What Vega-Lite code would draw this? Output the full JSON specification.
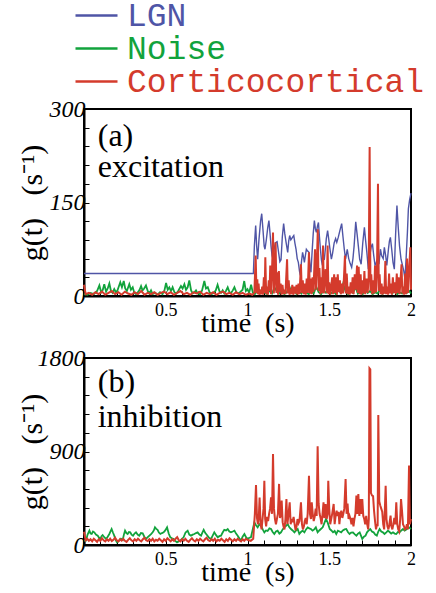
{
  "$schema": "https://vega.github.io/schema/vega-lite/v6.json",
  "background": "white",
  "padding": {"left": 16, "top": 0, "right": 0, "bottom": 0},
  "autosize": {"type": "pad"},
  "spacing": 62,
  "bounds": "flush",
  "datasets": {
    "aL": [{"t":0,"v":36},{"t":1.036,"v":36},{"t":1.042,"v":80},{"t":1.05,"v":113},{"t":1.056,"v":80},{"t":1.062,"v":59},{"t":1.07,"v":90},{"t":1.08,"v":120},{"t":1.087,"v":132},{"t":1.095,"v":105},{"t":1.102,"v":80},{"t":1.107,"v":75},{"t":1.115,"v":90},{"t":1.124,"v":110},{"t":1.131,"v":121},{"t":1.138,"v":100},{"t":1.144,"v":80},{"t":1.15,"v":65},{"t":1.156,"v":59},{"t":1.163,"v":75},{"t":1.17,"v":85},{"t":1.181,"v":87},{"t":1.19,"v":70},{"t":1.198,"v":55},{"t":1.205,"v":58},{"t":1.213,"v":95},{"t":1.221,"v":116},{"t":1.228,"v":100},{"t":1.236,"v":86},{"t":1.246,"v":70},{"t":1.252,"v":88},{"t":1.258,"v":97},{"t":1.265,"v":90},{"t":1.27,"v":92},{"t":1.277,"v":95},{"t":1.283,"v":97},{"t":1.29,"v":85},{"t":1.297,"v":75},{"t":1.304,"v":60},{"t":1.311,"v":54},{"t":1.318,"v":40},{"t":1.323,"v":33},{"t":1.33,"v":55},{"t":1.337,"v":70},{"t":1.343,"v":62},{"t":1.348,"v":54},{"t":1.354,"v":65},{"t":1.36,"v":75},{"t":1.368,"v":72},{"t":1.376,"v":70},{"t":1.382,"v":50},{"t":1.388,"v":38},{"t":1.395,"v":70},{"t":1.402,"v":100},{"t":1.409,"v":121},{"t":1.415,"v":108},{"t":1.421,"v":102},{"t":1.428,"v":112},{"t":1.434,"v":118},{"t":1.44,"v":95},{"t":1.446,"v":75},{"t":1.452,"v":58},{"t":1.458,"v":49},{"t":1.464,"v":58},{"t":1.47,"v":59},{"t":1.476,"v":75},{"t":1.482,"v":92},{"t":1.49,"v":105},{"t":1.495,"v":95},{"t":1.502,"v":80},{"t":1.507,"v":70},{"t":1.513,"v":59},{"t":1.52,"v":68},{"t":1.53,"v":85},{"t":1.539,"v":92},{"t":1.546,"v":86},{"t":1.555,"v":94},{"t":1.565,"v":105},{"t":1.576,"v":116},{"t":1.584,"v":95},{"t":1.592,"v":75},{"t":1.6,"v":59},{"t":1.61,"v":75},{"t":1.619,"v":60},{"t":1.628,"v":52},{"t":1.637,"v":46},{"t":1.645,"v":60},{"t":1.652,"v":80},{"t":1.662,"v":119},{"t":1.67,"v":100},{"t":1.678,"v":80},{"t":1.686,"v":59},{"t":1.695,"v":51},{"t":1.705,"v":85},{"t":1.715,"v":110},{"t":1.722,"v":90},{"t":1.73,"v":70},{"t":1.739,"v":43},{"t":1.748,"v":65},{"t":1.756,"v":78},{"t":1.764,"v":84},{"t":1.772,"v":65},{"t":1.78,"v":49},{"t":1.788,"v":54},{"t":1.796,"v":60},{"t":1.804,"v":51},{"t":1.813,"v":75},{"t":1.82,"v":65},{"t":1.83,"v":60},{"t":1.837,"v":78},{"t":1.845,"v":65},{"t":1.852,"v":49},{"t":1.862,"v":75},{"t":1.868,"v":88},{"t":1.874,"v":94},{"t":1.882,"v":75},{"t":1.89,"v":54},{"t":1.898,"v":43},{"t":1.906,"v":100},{"t":1.914,"v":145},{"t":1.922,"v":110},{"t":1.93,"v":80},{"t":1.939,"v":59},{"t":1.948,"v":49},{"t":1.956,"v":40},{"t":1.963,"v":27},{"t":1.97,"v":60},{"t":1.978,"v":102},{"t":1.984,"v":140},{"t":1.992,"v":155},{"t":2.0,"v":165}],
    "aN": [{"t":0,"v":3},{"t":0.02,"v":2},{"t":0.04,"v":5},{"t":0.06,"v":3},{"t":0.08,"v":8},{"t":0.094,"v":17},{"t":0.105,"v":6},{"t":0.115,"v":10},{"t":0.124,"v":19},{"t":0.135,"v":7},{"t":0.145,"v":12},{"t":0.155,"v":20},{"t":0.165,"v":8},{"t":0.175,"v":5},{"t":0.185,"v":11},{"t":0.195,"v":6},{"t":0.205,"v":9},{"t":0.214,"v":16},{"t":0.222,"v":22},{"t":0.232,"v":14},{"t":0.243,"v":24},{"t":0.252,"v":12},{"t":0.262,"v":8},{"t":0.277,"v":19},{"t":0.287,"v":10},{"t":0.298,"v":14},{"t":0.308,"v":5},{"t":0.318,"v":3},{"t":0.33,"v":6},{"t":0.34,"v":10},{"t":0.349,"v":16},{"t":0.358,"v":9},{"t":0.368,"v":12},{"t":0.379,"v":17},{"t":0.39,"v":8},{"t":0.4,"v":4},{"t":0.41,"v":9},{"t":0.42,"v":3},{"t":0.435,"v":5},{"t":0.45,"v":2},{"t":0.465,"v":6},{"t":0.48,"v":3},{"t":0.492,"v":9},{"t":0.502,"v":21},{"t":0.512,"v":10},{"t":0.522,"v":14},{"t":0.532,"v":8},{"t":0.542,"v":14},{"t":0.553,"v":6},{"t":0.565,"v":4},{"t":0.578,"v":9},{"t":0.593,"v":16},{"t":0.603,"v":12},{"t":0.614,"v":19},{"t":0.624,"v":10},{"t":0.634,"v":14},{"t":0.644,"v":25},{"t":0.655,"v":9},{"t":0.665,"v":4},{"t":0.675,"v":6},{"t":0.685,"v":9},{"t":0.695,"v":4},{"t":0.71,"v":3},{"t":0.722,"v":9},{"t":0.736,"v":24},{"t":0.746,"v":12},{"t":0.757,"v":14},{"t":0.768,"v":6},{"t":0.78,"v":3},{"t":0.795,"v":5},{"t":0.806,"v":9},{"t":0.817,"v":18},{"t":0.828,"v":8},{"t":0.838,"v":5},{"t":0.848,"v":9},{"t":0.858,"v":4},{"t":0.868,"v":8},{"t":0.879,"v":14},{"t":0.89,"v":6},{"t":0.9,"v":5},{"t":0.91,"v":9},{"t":0.92,"v":14},{"t":0.932,"v":6},{"t":0.945,"v":4},{"t":0.958,"v":7},{"t":0.97,"v":10},{"t":0.98,"v":24},{"t":0.99,"v":8},{"t":1.0,"v":11},{"t":1.01,"v":5},{"t":1.022,"v":18},{"t":1.032,"v":6},{"t":1.045,"v":3},{"t":1.06,"v":8},{"t":1.075,"v":4},{"t":1.09,"v":12},{"t":1.105,"v":5},{"t":1.12,"v":3},{"t":1.135,"v":9},{"t":1.15,"v":4},{"t":1.165,"v":14},{"t":1.18,"v":7},{"t":1.195,"v":4},{"t":1.21,"v":10},{"t":1.225,"v":3},{"t":1.24,"v":6},{"t":1.255,"v":16},{"t":1.27,"v":5},{"t":1.285,"v":9},{"t":1.3,"v":3},{"t":1.315,"v":7},{"t":1.33,"v":4},{"t":1.345,"v":12},{"t":1.36,"v":5},{"t":1.375,"v":3},{"t":1.39,"v":8},{"t":1.405,"v":4},{"t":1.42,"v":15},{"t":1.435,"v":6},{"t":1.45,"v":3},{"t":1.465,"v":9},{"t":1.48,"v":5},{"t":1.495,"v":12},{"t":1.51,"v":4},{"t":1.525,"v":8},{"t":1.54,"v":3},{"t":1.555,"v":10},{"t":1.57,"v":5},{"t":1.585,"v":20},{"t":1.6,"v":7},{"t":1.615,"v":3},{"t":1.63,"v":9},{"t":1.645,"v":5},{"t":1.66,"v":14},{"t":1.675,"v":4},{"t":1.69,"v":8},{"t":1.705,"v":3},{"t":1.72,"v":12},{"t":1.735,"v":5},{"t":1.75,"v":8},{"t":1.765,"v":3},{"t":1.78,"v":6},{"t":1.795,"v":4},{"t":1.81,"v":10},{"t":1.825,"v":3},{"t":1.84,"v":7},{"t":1.855,"v":5},{"t":1.87,"v":12},{"t":1.885,"v":4},{"t":1.9,"v":8},{"t":1.915,"v":3},{"t":1.93,"v":6},{"t":1.945,"v":4},{"t":1.96,"v":14},{"t":1.975,"v":5},{"t":1.99,"v":8},{"t":2.0,"v":4}],
    "aC": [{"t":0,"v":18},{"t":0.01,"v":3},{"t":0.03,"v":5},{"t":0.05,"v":2},{"t":0.07,"v":6},{"t":0.09,"v":3},{"t":0.11,"v":7},{"t":0.13,"v":2},{"t":0.15,"v":5},{"t":0.17,"v":8},{"t":0.19,"v":3},{"t":0.21,"v":6},{"t":0.23,"v":2},{"t":0.25,"v":7},{"t":0.27,"v":4},{"t":0.29,"v":2},{"t":0.31,"v":6},{"t":0.33,"v":3},{"t":0.35,"v":8},{"t":0.37,"v":2},{"t":0.39,"v":5},{"t":0.41,"v":3},{"t":0.43,"v":6},{"t":0.45,"v":2},{"t":0.47,"v":5},{"t":0.49,"v":7},{"t":0.51,"v":3},{"t":0.53,"v":6},{"t":0.55,"v":2},{"t":0.57,"v":5},{"t":0.59,"v":8},{"t":0.61,"v":3},{"t":0.63,"v":5},{"t":0.65,"v":2},{"t":0.67,"v":6},{"t":0.69,"v":4},{"t":0.71,"v":7},{"t":0.73,"v":2},{"t":0.75,"v":5},{"t":0.77,"v":3},{"t":0.79,"v":6},{"t":0.81,"v":2},{"t":0.83,"v":5},{"t":0.85,"v":7},{"t":0.87,"v":3},{"t":0.89,"v":5},{"t":0.91,"v":2},{"t":0.93,"v":6},{"t":0.95,"v":3},{"t":0.97,"v":5},{"t":0.99,"v":2},{"t":1.01,"v":4},{"t":1.03,"v":2},{"t":1.042,"v":5},{"t":1.05,"v":65},{"t":1.055,"v":5},{"t":1.06,"v":27},{"t":1.064,"v":3},{"t":1.068,"v":20},{"t":1.072,"v":2},{"t":1.078,"v":10},{"t":1.085,"v":3},{"t":1.09,"v":15},{"t":1.095,"v":2},{"t":1.1,"v":30},{"t":1.105,"v":5},{"t":1.109,"v":62},{"t":1.114,"v":3},{"t":1.12,"v":15},{"t":1.125,"v":2},{"t":1.13,"v":25},{"t":1.135,"v":8},{"t":1.139,"v":49},{"t":1.144,"v":3},{"t":1.15,"v":40},{"t":1.156,"v":102},{"t":1.161,"v":4},{"t":1.166,"v":30},{"t":1.172,"v":86},{"t":1.177,"v":5},{"t":1.182,"v":38},{"t":1.187,"v":2},{"t":1.192,"v":40},{"t":1.197,"v":6},{"t":1.203,"v":20},{"t":1.208,"v":2},{"t":1.214,"v":18},{"t":1.22,"v":3},{"t":1.226,"v":10},{"t":1.232,"v":3},{"t":1.242,"v":59},{"t":1.247,"v":4},{"t":1.252,"v":25},{"t":1.257,"v":2},{"t":1.262,"v":12},{"t":1.268,"v":3},{"t":1.274,"v":18},{"t":1.28,"v":2},{"t":1.287,"v":15},{"t":1.293,"v":4},{"t":1.3,"v":18},{"t":1.306,"v":2},{"t":1.312,"v":20},{"t":1.318,"v":3},{"t":1.327,"v":51},{"t":1.332,"v":5},{"t":1.338,"v":25},{"t":1.344,"v":3},{"t":1.35,"v":20},{"t":1.356,"v":2},{"t":1.362,"v":28},{"t":1.368,"v":5},{"t":1.376,"v":70},{"t":1.381,"v":4},{"t":1.386,"v":28},{"t":1.392,"v":3},{"t":1.398,"v":30},{"t":1.403,"v":6},{"t":1.413,"v":75},{"t":1.418,"v":10},{"t":1.424,"v":50},{"t":1.43,"v":107},{"t":1.435,"v":8},{"t":1.44,"v":45},{"t":1.446,"v":3},{"t":1.452,"v":30},{"t":1.457,"v":5},{"t":1.462,"v":81},{"t":1.467,"v":4},{"t":1.472,"v":25},{"t":1.478,"v":43},{"t":1.484,"v":5},{"t":1.49,"v":81},{"t":1.495,"v":3},{"t":1.5,"v":22},{"t":1.506,"v":2},{"t":1.512,"v":15},{"t":1.518,"v":30},{"t":1.523,"v":3},{"t":1.53,"v":35},{"t":1.536,"v":5},{"t":1.541,"v":30},{"t":1.547,"v":2},{"t":1.552,"v":35},{"t":1.558,"v":6},{"t":1.565,"v":25},{"t":1.571,"v":3},{"t":1.578,"v":20},{"t":1.584,"v":4},{"t":1.59,"v":30},{"t":1.596,"v":65},{"t":1.601,"v":4},{"t":1.607,"v":36},{"t":1.613,"v":3},{"t":1.619,"v":15},{"t":1.625,"v":2},{"t":1.631,"v":22},{"t":1.637,"v":4},{"t":1.643,"v":30},{"t":1.649,"v":3},{"t":1.656,"v":35},{"t":1.662,"v":10},{"t":1.67,"v":49},{"t":1.675,"v":5},{"t":1.68,"v":47},{"t":1.686,"v":3},{"t":1.692,"v":35},{"t":1.697,"v":2},{"t":1.703,"v":25},{"t":1.709,"v":4},{"t":1.715,"v":40},{"t":1.72,"v":3},{"t":1.728,"v":28},{"t":1.735,"v":5},{"t":1.741,"v":30},{"t":1.747,"v":239},{"t":1.752,"v":8},{"t":1.757,"v":35},{"t":1.763,"v":3},{"t":1.769,"v":25},{"t":1.775,"v":4},{"t":1.78,"v":49},{"t":1.786,"v":6},{"t":1.792,"v":40},{"t":1.798,"v":180},{"t":1.803,"v":8},{"t":1.808,"v":35},{"t":1.814,"v":3},{"t":1.82,"v":20},{"t":1.826,"v":2},{"t":1.832,"v":15},{"t":1.837,"v":4},{"t":1.843,"v":56},{"t":1.848,"v":3},{"t":1.854,"v":15},{"t":1.86,"v":2},{"t":1.866,"v":36},{"t":1.871,"v":4},{"t":1.877,"v":20},{"t":1.883,"v":2},{"t":1.889,"v":30},{"t":1.895,"v":5},{"t":1.901,"v":22},{"t":1.907,"v":3},{"t":1.913,"v":36},{"t":1.918,"v":5},{"t":1.924,"v":30},{"t":1.93,"v":3},{"t":1.936,"v":25},{"t":1.942,"v":51},{"t":1.947,"v":4},{"t":1.953,"v":15},{"t":1.958,"v":2},{"t":1.964,"v":36},{"t":1.97,"v":3},{"t":1.976,"v":60},{"t":1.982,"v":5},{"t":1.988,"v":40},{"t":1.996,"v":78},{"t":2.0,"v":10}],
    "bN": [{"t":0,"v":42},{"t":0.012,"v":42},{"t":0.022,"v":100},{"t":0.033,"v":138},{"t":0.04,"v":110},{"t":0.047,"v":106},{"t":0.055,"v":130},{"t":0.063,"v":122},{"t":0.073,"v":100},{"t":0.084,"v":90},{"t":0.092,"v":70},{"t":0.1,"v":58},{"t":0.107,"v":85},{"t":0.114,"v":96},{"t":0.124,"v":75},{"t":0.135,"v":58},{"t":0.145,"v":80},{"t":0.155,"v":106},{"t":0.162,"v":130},{"t":0.169,"v":154},{"t":0.177,"v":120},{"t":0.185,"v":90},{"t":0.193,"v":50},{"t":0.202,"v":26},{"t":0.209,"v":35},{"t":0.216,"v":42},{"t":0.226,"v":60},{"t":0.237,"v":48},{"t":0.244,"v":100},{"t":0.251,"v":138},{"t":0.259,"v":115},{"t":0.267,"v":106},{"t":0.275,"v":125},{"t":0.283,"v":122},{"t":0.291,"v":100},{"t":0.3,"v":90},{"t":0.309,"v":110},{"t":0.318,"v":122},{"t":0.328,"v":100},{"t":0.338,"v":90},{"t":0.348,"v":115},{"t":0.359,"v":112},{"t":0.369,"v":80},{"t":0.379,"v":58},{"t":0.39,"v":75},{"t":0.4,"v":90},{"t":0.41,"v":105},{"t":0.42,"v":122},{"t":0.427,"v":140},{"t":0.434,"v":170},{"t":0.442,"v":155},{"t":0.45,"v":146},{"t":0.458,"v":120},{"t":0.467,"v":106},{"t":0.477,"v":115},{"t":0.487,"v":122},{"t":0.497,"v":140},{"t":0.508,"v":170},{"t":0.518,"v":110},{"t":0.528,"v":74},{"t":0.538,"v":65},{"t":0.548,"v":58},{"t":0.558,"v":40},{"t":0.569,"v":26},{"t":0.579,"v":35},{"t":0.589,"v":42},{"t":0.599,"v":60},{"t":0.609,"v":74},{"t":0.621,"v":120},{"t":0.634,"v":138},{"t":0.644,"v":100},{"t":0.654,"v":90},{"t":0.665,"v":100},{"t":0.675,"v":106},{"t":0.685,"v":115},{"t":0.695,"v":122},{"t":0.706,"v":100},{"t":0.716,"v":90},{"t":0.724,"v":120},{"t":0.732,"v":146},{"t":0.742,"v":115},{"t":0.752,"v":96},{"t":0.765,"v":70},{"t":0.777,"v":58},{"t":0.787,"v":90},{"t":0.797,"v":122},{"t":0.808,"v":95},{"t":0.818,"v":74},{"t":0.828,"v":85},{"t":0.838,"v":90},{"t":0.848,"v":120},{"t":0.858,"v":146},{"t":0.869,"v":140},{"t":0.879,"v":154},{"t":0.889,"v":130},{"t":0.899,"v":122},{"t":0.91,"v":130},{"t":0.92,"v":138},{"t":0.93,"v":110},{"t":0.94,"v":90},{"t":0.95,"v":65},{"t":0.96,"v":42},{"t":0.97,"v":80},{"t":0.981,"v":106},{"t":0.991,"v":75},{"t":1.001,"v":58},{"t":1.011,"v":70},{"t":1.021,"v":74},{"t":1.032,"v":150},{"t":1.042,"v":218},{"t":1.052,"v":190},{"t":1.062,"v":170},{"t":1.072,"v":200},{"t":1.083,"v":186},{"t":1.093,"v":150},{"t":1.103,"v":122},{"t":1.113,"v":140},{"t":1.123,"v":135},{"t":1.134,"v":160},{"t":1.144,"v":154},{"t":1.154,"v":125},{"t":1.164,"v":106},{"t":1.174,"v":130},{"t":1.184,"v":138},{"t":1.195,"v":110},{"t":1.205,"v":122},{"t":1.215,"v":150},{"t":1.225,"v":170},{"t":1.236,"v":185},{"t":1.246,"v":202},{"t":1.256,"v":170},{"t":1.266,"v":154},{"t":1.276,"v":140},{"t":1.287,"v":122},{"t":1.297,"v":140},{"t":1.307,"v":154},{"t":1.317,"v":106},{"t":1.327,"v":125},{"t":1.337,"v":138},{"t":1.348,"v":122},{"t":1.358,"v":150},{"t":1.368,"v":170},{"t":1.378,"v":160},{"t":1.388,"v":154},{"t":1.398,"v":138},{"t":1.408,"v":150},{"t":1.418,"v":170},{"t":1.429,"v":122},{"t":1.439,"v":140},{"t":1.449,"v":154},{"t":1.46,"v":170},{"t":1.47,"v":210},{"t":1.48,"v":250},{"t":1.49,"v":218},{"t":1.503,"v":154},{"t":1.513,"v":140},{"t":1.523,"v":122},{"t":1.533,"v":135},{"t":1.543,"v":106},{"t":1.553,"v":138},{"t":1.563,"v":130},{"t":1.573,"v":122},{"t":1.583,"v":140},{"t":1.594,"v":150},{"t":1.604,"v":154},{"t":1.614,"v":125},{"t":1.624,"v":106},{"t":1.634,"v":120},{"t":1.645,"v":122},{"t":1.655,"v":105},{"t":1.666,"v":90},{"t":1.676,"v":110},{"t":1.686,"v":122},{"t":1.694,"v":90},{"t":1.702,"v":58},{"t":1.712,"v":80},{"t":1.722,"v":90},{"t":1.731,"v":122},{"t":1.741,"v":140},{"t":1.751,"v":154},{"t":1.761,"v":130},{"t":1.771,"v":122},{"t":1.781,"v":100},{"t":1.791,"v":90},{"t":1.8,"v":130},{"t":1.808,"v":154},{"t":1.818,"v":130},{"t":1.828,"v":122},{"t":1.838,"v":106},{"t":1.849,"v":122},{"t":1.859,"v":138},{"t":1.869,"v":125},{"t":1.879,"v":110},{"t":1.89,"v":122},{"t":1.9,"v":110},{"t":1.91,"v":106},{"t":1.92,"v":125},{"t":1.93,"v":122},{"t":1.941,"v":140},{"t":1.951,"v":154},{"t":1.961,"v":138},{"t":1.971,"v":150},{"t":1.98,"v":160},{"t":1.988,"v":170},{"t":2.0,"v":154}],
    "bC": [{"t":0,"v":128},{"t":0.01,"v":45},{"t":0.02,"v":60},{"t":0.03,"v":40},{"t":0.04,"v":55},{"t":0.05,"v":35},{"t":0.06,"v":60},{"t":0.07,"v":45},{"t":0.08,"v":30},{"t":0.09,"v":55},{"t":0.1,"v":40},{"t":0.11,"v":65},{"t":0.12,"v":45},{"t":0.13,"v":35},{"t":0.14,"v":55},{"t":0.15,"v":40},{"t":0.16,"v":60},{"t":0.17,"v":38},{"t":0.18,"v":50},{"t":0.19,"v":70},{"t":0.2,"v":45},{"t":0.21,"v":35},{"t":0.22,"v":55},{"t":0.23,"v":42},{"t":0.24,"v":60},{"t":0.25,"v":40},{"t":0.26,"v":30},{"t":0.27,"v":50},{"t":0.28,"v":65},{"t":0.29,"v":45},{"t":0.3,"v":35},{"t":0.31,"v":55},{"t":0.32,"v":40},{"t":0.33,"v":60},{"t":0.34,"v":45},{"t":0.35,"v":35},{"t":0.36,"v":55},{"t":0.37,"v":70},{"t":0.38,"v":45},{"t":0.39,"v":38},{"t":0.4,"v":55},{"t":0.41,"v":40},{"t":0.42,"v":60},{"t":0.43,"v":35},{"t":0.44,"v":50},{"t":0.45,"v":42},{"t":0.46,"v":60},{"t":0.47,"v":45},{"t":0.48,"v":30},{"t":0.49,"v":55},{"t":0.5,"v":40},{"t":0.51,"v":65},{"t":0.52,"v":50},{"t":0.53,"v":35},{"t":0.54,"v":55},{"t":0.55,"v":40},{"t":0.56,"v":60},{"t":0.57,"v":75},{"t":0.58,"v":45},{"t":0.59,"v":35},{"t":0.6,"v":55},{"t":0.61,"v":42},{"t":0.62,"v":60},{"t":0.63,"v":40},{"t":0.64,"v":30},{"t":0.65,"v":50},{"t":0.66,"v":65},{"t":0.67,"v":45},{"t":0.68,"v":35},{"t":0.69,"v":55},{"t":0.7,"v":40},{"t":0.71,"v":60},{"t":0.72,"v":45},{"t":0.73,"v":35},{"t":0.74,"v":55},{"t":0.75,"v":70},{"t":0.76,"v":45},{"t":0.77,"v":38},{"t":0.78,"v":55},{"t":0.79,"v":40},{"t":0.8,"v":60},{"t":0.81,"v":35},{"t":0.82,"v":50},{"t":0.83,"v":42},{"t":0.84,"v":60},{"t":0.85,"v":45},{"t":0.86,"v":30},{"t":0.87,"v":55},{"t":0.88,"v":40},{"t":0.89,"v":65},{"t":0.9,"v":50},{"t":0.91,"v":35},{"t":0.92,"v":55},{"t":0.93,"v":40},{"t":0.94,"v":60},{"t":0.95,"v":45},{"t":0.96,"v":35},{"t":0.97,"v":55},{"t":0.98,"v":40},{"t":0.99,"v":60},{"t":1.0,"v":50},{"t":1.02,"v":40},{"t":1.035,"v":60},{"t":1.045,"v":300},{"t":1.052,"v":578},{"t":1.058,"v":260},{"t":1.064,"v":200},{"t":1.07,"v":300},{"t":1.074,"v":458},{"t":1.08,"v":200},{"t":1.086,"v":150},{"t":1.092,"v":250},{"t":1.098,"v":350},{"t":1.103,"v":619},{"t":1.108,"v":250},{"t":1.114,"v":180},{"t":1.12,"v":270},{"t":1.126,"v":230},{"t":1.132,"v":300},{"t":1.138,"v":350},{"t":1.144,"v":458},{"t":1.15,"v":300},{"t":1.156,"v":876},{"t":1.162,"v":350},{"t":1.168,"v":250},{"t":1.174,"v":200},{"t":1.18,"v":250},{"t":1.186,"v":300},{"t":1.193,"v":588},{"t":1.199,"v":260},{"t":1.205,"v":300},{"t":1.209,"v":427},{"t":1.215,"v":220},{"t":1.22,"v":180},{"t":1.226,"v":150},{"t":1.232,"v":250},{"t":1.238,"v":443},{"t":1.244,"v":200},{"t":1.25,"v":280},{"t":1.258,"v":410},{"t":1.264,"v":200},{"t":1.27,"v":250},{"t":1.276,"v":220},{"t":1.282,"v":270},{"t":1.288,"v":200},{"t":1.294,"v":140},{"t":1.3,"v":180},{"t":1.306,"v":250},{"t":1.312,"v":210},{"t":1.318,"v":230},{"t":1.327,"v":410},{"t":1.333,"v":200},{"t":1.339,"v":150},{"t":1.345,"v":180},{"t":1.35,"v":230},{"t":1.356,"v":260},{"t":1.362,"v":200},{"t":1.368,"v":300},{"t":1.376,"v":667},{"t":1.382,"v":300},{"t":1.388,"v":250},{"t":1.393,"v":410},{"t":1.399,"v":300},{"t":1.405,"v":230},{"t":1.411,"v":270},{"t":1.417,"v":350},{"t":1.423,"v":280},{"t":1.429,"v":950},{"t":1.435,"v":400},{"t":1.441,"v":300},{"t":1.447,"v":260},{"t":1.453,"v":200},{"t":1.459,"v":300},{"t":1.465,"v":410},{"t":1.47,"v":260},{"t":1.475,"v":300},{"t":1.478,"v":395},{"t":1.484,"v":250},{"t":1.49,"v":300},{"t":1.494,"v":619},{"t":1.5,"v":350},{"t":1.506,"v":200},{"t":1.512,"v":250},{"t":1.518,"v":300},{"t":1.527,"v":395},{"t":1.533,"v":200},{"t":1.539,"v":280},{"t":1.545,"v":330},{"t":1.551,"v":280},{"t":1.557,"v":320},{"t":1.562,"v":200},{"t":1.568,"v":300},{"t":1.574,"v":330},{"t":1.58,"v":260},{"t":1.586,"v":300},{"t":1.592,"v":350},{"t":1.6,"v":635},{"t":1.606,"v":300},{"t":1.612,"v":400},{"t":1.618,"v":250},{"t":1.624,"v":280},{"t":1.63,"v":250},{"t":1.636,"v":200},{"t":1.642,"v":260},{"t":1.648,"v":180},{"t":1.654,"v":250},{"t":1.66,"v":300},{"t":1.666,"v":475},{"t":1.672,"v":300},{"t":1.678,"v":490},{"t":1.684,"v":280},{"t":1.69,"v":443},{"t":1.696,"v":300},{"t":1.702,"v":443},{"t":1.708,"v":280},{"t":1.714,"v":250},{"t":1.72,"v":200},{"t":1.726,"v":280},{"t":1.732,"v":200},{"t":1.738,"v":150},{"t":1.742,"v":250},{"t":1.746,"v":1700},{"t":1.751,"v":1690},{"t":1.755,"v":500},{"t":1.762,"v":475},{"t":1.768,"v":470},{"t":1.774,"v":330},{"t":1.78,"v":230},{"t":1.786,"v":150},{"t":1.792,"v":200},{"t":1.796,"v":180},{"t":1.8,"v":1251},{"t":1.806,"v":420},{"t":1.812,"v":380},{"t":1.818,"v":350},{"t":1.824,"v":320},{"t":1.83,"v":200},{"t":1.836,"v":150},{"t":1.845,"v":571},{"t":1.85,"v":250},{"t":1.856,"v":180},{"t":1.862,"v":150},{"t":1.868,"v":200},{"t":1.875,"v":283},{"t":1.88,"v":180},{"t":1.886,"v":150},{"t":1.892,"v":200},{"t":1.898,"v":260},{"t":1.904,"v":200},{"t":1.91,"v":411},{"t":1.916,"v":200},{"t":1.922,"v":150},{"t":1.928,"v":130},{"t":1.934,"v":250},{"t":1.939,"v":443},{"t":1.945,"v":330},{"t":1.951,"v":200},{"t":1.957,"v":180},{"t":1.963,"v":150},{"t":1.969,"v":160},{"t":1.975,"v":200},{"t":1.981,"v":150},{"t":1.988,"v":764},{"t":1.993,"v":200},{"t":2.0,"v":250}],
    "labels": [{"panel":"a","line":"(a)"},{"panel":"a2","line":"excitation"},{"panel":"b","line":"(b)"},{"panel":"b2","line":"inhibition"}]
  },
  "vconcat": [
    {
      "width": 327,
      "height": 187,
      "layer": [
        {"data": {"name": "aL"}, "mark": {"type": "line", "strokeWidth": 1.4},
         "encoding": {
           "x": {"field": "t", "type": "quantitative", "scale": {"domain": [0, 2], "nice": false},
             "axis": {"title": "time\u00a0\u00a0(s)", "values": [0.1,0.2,0.3,0.4,0.5,0.6,0.7,0.8,0.9,1,1.1,1.2,1.3,1.4,1.5,1.6,1.7,1.8,1.9,2],
               "labelExpr": "datum.value == 0.5 || datum.value == 1 || datum.value == 1.5 || datum.value == 2 ? format(datum.value, '~g') : ''"}},
           "y": {"field": "v", "type": "quantitative", "scale": {"domain": [0, 300], "nice": false},
             "axis": {"title": "g(t)\u00a0\u00a0\u00a0(s⁻¹)", "values": [0,30,60,90,120,150,180,210,240,270,300],
               "labelExpr": "datum.value == 0 || datum.value == 150 || datum.value == 300 ? format(datum.value, 'd') : ''"}},
           "color": {"datum": "LGN", "type": "nominal",
             "scale": {"domain": ["LGN", "Noise", "Corticocortical"], "range": ["#4f55a6", "#12a33c", "#d43b2c"]},
             "legend": {"encode": {"labels": {"update": {"fill": {"scale": "color", "field": "value"}}}}}}}},
        {"data": {"name": "aN"}, "mark": {"type": "line", "strokeWidth": 1.8},
         "encoding": {
           "x": {"field": "t", "type": "quantitative", "scale": {"domain": [0, 2], "nice": false},
             "axis": {"title": "time\u00a0\u00a0(s)", "values": [0.1,0.2,0.3,0.4,0.5,0.6,0.7,0.8,0.9,1,1.1,1.2,1.3,1.4,1.5,1.6,1.7,1.8,1.9,2],
               "labelExpr": "datum.value == 0.5 || datum.value == 1 || datum.value == 1.5 || datum.value == 2 ? format(datum.value, '~g') : ''"}},
           "y": {"field": "v", "type": "quantitative", "scale": {"domain": [0, 300], "nice": false},
             "axis": {"title": "g(t)\u00a0\u00a0\u00a0(s⁻¹)", "values": [0,30,60,90,120,150,180,210,240,270,300],
               "labelExpr": "datum.value == 0 || datum.value == 150 || datum.value == 300 ? format(datum.value, 'd') : ''"}},
           "color": {"datum": "Noise", "type": "nominal"}}},
        {"data": {"name": "aC"}, "mark": {"type": "line", "strokeWidth": 2},
         "encoding": {
           "x": {"field": "t", "type": "quantitative", "scale": {"domain": [0, 2], "nice": false},
             "axis": {"title": "time\u00a0\u00a0(s)", "values": [0.1,0.2,0.3,0.4,0.5,0.6,0.7,0.8,0.9,1,1.1,1.2,1.3,1.4,1.5,1.6,1.7,1.8,1.9,2],
               "labelExpr": "datum.value == 0.5 || datum.value == 1 || datum.value == 1.5 || datum.value == 2 ? format(datum.value, '~g') : ''"}},
           "y": {"field": "v", "type": "quantitative", "scale": {"domain": [0, 300], "nice": false},
             "axis": {"title": "g(t)\u00a0\u00a0\u00a0(s⁻¹)", "values": [0,30,60,90,120,150,180,210,240,270,300],
               "labelExpr": "datum.value == 0 || datum.value == 150 || datum.value == 300 ? format(datum.value, 'd') : ''"}},
           "color": {"datum": "Corticocortical", "type": "nominal"}}},
        {"data": {"name": "labels"}, "transform": [{"filter": "datum.panel == 'a'"}],
         "mark": {"type": "text", "align": "left", "baseline": "alphabetic", "font": "Liberation Serif", "fontSize": 32, "fill": "black"},
         "encoding": {
           "x": {"datum": 0.084, "type": "quantitative", "scale": {"domain": [0, 2], "nice": false},
             "axis": {"title": "time\u00a0\u00a0(s)", "values": [0.1,0.2,0.3,0.4,0.5,0.6,0.7,0.8,0.9,1,1.1,1.2,1.3,1.4,1.5,1.6,1.7,1.8,1.9,2],
               "labelExpr": "datum.value == 0.5 || datum.value == 1 || datum.value == 1.5 || datum.value == 2 ? format(datum.value, '~g') : ''"}},
           "y": {"datum": 241, "type": "quantitative", "scale": {"domain": [0, 300], "nice": false},
             "axis": {"title": "g(t)\u00a0\u00a0\u00a0(s⁻¹)", "values": [0,30,60,90,120,150,180,210,240,270,300],
               "labelExpr": "datum.value == 0 || datum.value == 150 || datum.value == 300 ? format(datum.value, 'd') : ''"}},
           "text": {"field": "line"}}},
        {"data": {"name": "labels"}, "transform": [{"filter": "datum.panel == 'a2'"}],
         "mark": {"type": "text", "align": "left", "baseline": "alphabetic", "font": "Liberation Serif", "fontSize": 32, "fill": "black"},
         "encoding": {
           "x": {"datum": 0.084, "type": "quantitative", "scale": {"domain": [0, 2], "nice": false},
             "axis": {"title": "time\u00a0\u00a0(s)", "values": [0.1,0.2,0.3,0.4,0.5,0.6,0.7,0.8,0.9,1,1.1,1.2,1.3,1.4,1.5,1.6,1.7,1.8,1.9,2],
               "labelExpr": "datum.value == 0.5 || datum.value == 1 || datum.value == 1.5 || datum.value == 2 ? format(datum.value, '~g') : ''"}},
           "y": {"datum": 191, "type": "quantitative", "scale": {"domain": [0, 300], "nice": false},
             "axis": {"title": "g(t)\u00a0\u00a0\u00a0(s⁻¹)", "values": [0,30,60,90,120,150,180,210,240,270,300],
               "labelExpr": "datum.value == 0 || datum.value == 150 || datum.value == 300 ? format(datum.value, 'd') : ''"}},
           "text": {"field": "line"}}}
      ]
    },
    {
      "width": 327,
      "height": 187,
      "layer": [
        {"data": {"name": "bN"}, "mark": {"type": "line", "strokeWidth": 1.8},
         "encoding": {
           "x": {"field": "t", "type": "quantitative", "scale": {"domain": [0, 2], "nice": false},
             "axis": {"title": "time\u00a0\u00a0(s)", "values": [0.1,0.2,0.3,0.4,0.5,0.6,0.7,0.8,0.9,1,1.1,1.2,1.3,1.4,1.5,1.6,1.7,1.8,1.9,2],
               "labelExpr": "datum.value == 0.5 || datum.value == 1 || datum.value == 1.5 || datum.value == 2 ? format(datum.value, '~g') : ''"}},
           "y": {"field": "v", "type": "quantitative", "scale": {"domain": [0, 1800], "nice": false},
             "axis": {"title": "g(t)\u00a0\u00a0\u00a0(s⁻¹)", "values": [0,180,360,540,720,900,1080,1260,1440,1620,1800],
               "labelExpr": "datum.value == 0 || datum.value == 900 || datum.value == 1800 ? format(datum.value, 'd') : ''"}},
           "color": {"datum": "Noise", "type": "nominal"}}},
        {"data": {"name": "bC"}, "mark": {"type": "line", "strokeWidth": 2},
         "encoding": {
           "x": {"field": "t", "type": "quantitative", "scale": {"domain": [0, 2], "nice": false},
             "axis": {"title": "time\u00a0\u00a0(s)", "values": [0.1,0.2,0.3,0.4,0.5,0.6,0.7,0.8,0.9,1,1.1,1.2,1.3,1.4,1.5,1.6,1.7,1.8,1.9,2],
               "labelExpr": "datum.value == 0.5 || datum.value == 1 || datum.value == 1.5 || datum.value == 2 ? format(datum.value, '~g') : ''"}},
           "y": {"field": "v", "type": "quantitative", "scale": {"domain": [0, 1800], "nice": false},
             "axis": {"title": "g(t)\u00a0\u00a0\u00a0(s⁻¹)", "values": [0,180,360,540,720,900,1080,1260,1440,1620,1800],
               "labelExpr": "datum.value == 0 || datum.value == 900 || datum.value == 1800 ? format(datum.value, 'd') : ''"}},
           "color": {"datum": "Corticocortical", "type": "nominal"}}},
        {"data": {"name": "labels"}, "transform": [{"filter": "datum.panel == 'b'"}],
         "mark": {"type": "text", "align": "left", "baseline": "alphabetic", "font": "Liberation Serif", "fontSize": 32, "fill": "black"},
         "encoding": {
           "x": {"datum": 0.084, "type": "quantitative", "scale": {"domain": [0, 2], "nice": false},
             "axis": {"title": "time\u00a0\u00a0(s)", "values": [0.1,0.2,0.3,0.4,0.5,0.6,0.7,0.8,0.9,1,1.1,1.2,1.3,1.4,1.5,1.6,1.7,1.8,1.9,2],
               "labelExpr": "datum.value == 0.5 || datum.value == 1 || datum.value == 1.5 || datum.value == 2 ? format(datum.value, '~g') : ''"}},
           "y": {"datum": 1473, "type": "quantitative", "scale": {"domain": [0, 1800], "nice": false},
             "axis": {"title": "g(t)\u00a0\u00a0\u00a0(s⁻¹)", "values": [0,180,360,540,720,900,1080,1260,1440,1620,1800],
               "labelExpr": "datum.value == 0 || datum.value == 900 || datum.value == 1800 ? format(datum.value, 'd') : ''"}},
           "text": {"field": "line"}}},
        {"data": {"name": "labels"}, "transform": [{"filter": "datum.panel == 'b2'"}],
         "mark": {"type": "text", "align": "left", "baseline": "alphabetic", "font": "Liberation Serif", "fontSize": 32, "fill": "black"},
         "encoding": {
           "x": {"datum": 0.084, "type": "quantitative", "scale": {"domain": [0, 2], "nice": false},
             "axis": {"title": "time\u00a0\u00a0(s)", "values": [0.1,0.2,0.3,0.4,0.5,0.6,0.7,0.8,0.9,1,1.1,1.2,1.3,1.4,1.5,1.6,1.7,1.8,1.9,2],
               "labelExpr": "datum.value == 0.5 || datum.value == 1 || datum.value == 1.5 || datum.value == 2 ? format(datum.value, '~g') : ''"}},
           "y": {"datum": 1136, "type": "quantitative", "scale": {"domain": [0, 1800], "nice": false},
             "axis": {"title": "g(t)\u00a0\u00a0\u00a0(s⁻¹)", "values": [0,180,360,540,720,900,1080,1260,1440,1620,1800],
               "labelExpr": "datum.value == 0 || datum.value == 900 || datum.value == 1800 ? format(datum.value, 'd') : ''"}},
           "text": {"field": "line"}}}
      ]
    }
  ],
  "config": {
    "view": {"stroke": "black", "strokeWidth": 2},
    "axis": {"grid": false, "domainColor": "black", "domainWidth": 2, "tickColor": "black", "tickSize": -5, "tickWidth": 1,
      "labelColor": "black", "titleColor": "black", "labelFont": "Liberation Serif", "titleFont": "Liberation Serif",
      "titleFontWeight": "normal", "labelOverlap": false, "labelFlush": false, "labelBound": false},
    "axisX": {"labelFontSize": 18, "labelPadding": 10, "titleFontSize": 28, "titlePadding": -10},
    "axisY": {"labelFontSize": 24, "labelFontStyle": "italic", "labelPadding": 4, "titleFontSize": 30, "titleX": -43, "titleBaseline": "alphabetic"},
    "legend": {"orient": "none", "legendX": -10, "legendY": -109, "title": null, "symbolType": "stroke", "symbolSize": 1764,
      "symbolStrokeWidth": 2.5, "labelFont": "Liberation Mono", "labelFontSize": 33, "labelOffset": 8, "rowPadding": -3, "clipHeight": 31, "labelLimit": 500}
  }
}
